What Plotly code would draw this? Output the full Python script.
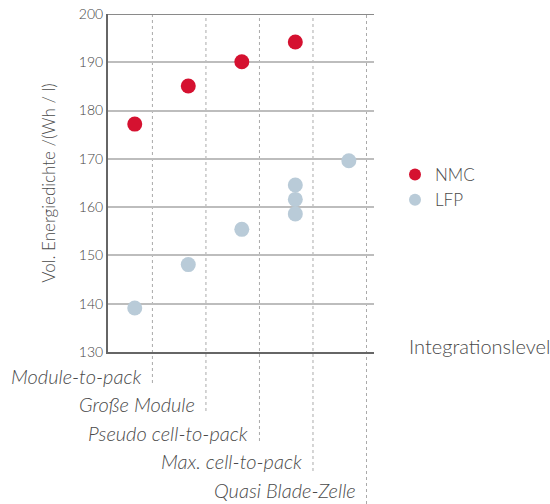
import plotly.graph_objects as go

# ---- data ----
nmc_x = [0, 1, 2, 3]
nmc_y = [177.2, 185.1, 190.1, 194.2]
lfp_x = [0, 1, 2, 3, 3, 3, 4]
lfp_y = [139.1, 148.1, 155.4, 158.6, 161.6, 164.6, 169.6]
level_labels = ["Module-to-pack", "Große Module", "Pseudo cell-to-pack",
                "Max. cell-to-pack", "Quasi Blade-Zelle"]
level_pos = [0.33, 1.33, 2.33, 3.33, 4.33]
y_ticks = [130, 140, 150, 160, 170, 180, 190, 200]

# ---- layout geometry ----
W, H = 550, 504
L, R, T, B = 108, 176, 14, 152
ph = H - T - B
FONT = "Lato"
TXT = "#4a4a4a"

def py(pixel_y):
    return (H - B - pixel_y) / ph

fig = go.Figure()
fig.add_trace(go.Scatter(x=nmc_x, y=nmc_y, mode="markers", name="NMC",
                         marker=dict(color="#d51130", size=15, line=dict(width=0))))
fig.add_trace(go.Scatter(x=lfp_x, y=lfp_y, mode="markers", name="LFP",
                         marker=dict(color="#b9cbd8", size=15, line=dict(width=0))))

line_ends = [383, 411, 441, 471, 504]
label_y = [376, 404, 433, 461, 490]
shapes = []
annotations = []
for xp, lab, ye, ly in zip(level_pos, level_labels, line_ends, label_y):
    shapes.append(dict(type="line", xref="x", yref="paper", x0=xp, x1=xp,
                       y0=py(ye), y1=1, line=dict(color="#aaaaaa", width=1, dash="dot"),
                       layer="below"))
    annotations.append(dict(x=xp, y=py(ly), xref="x", yref="paper", text=lab,
                            showarrow=False, xanchor="right", yanchor="middle", xshift=-9,
                            font=dict(family=FONT, size=20, color=TXT, style="italic", weight=300)))
# top border
shapes.append(dict(type="line", xref="paper", yref="y", x0=0, x1=1, y0=200, y1=200,
                   line=dict(color="#8a8a8a", width=2)))
annotations.append(dict(x=(407 - L) / (W - L - R), y=py(346), xref="paper", yref="paper",
                        text="Integrationslevel",
                        showarrow=False, xanchor="left", yanchor="middle",
                        font=dict(family=FONT, size=20, color=TXT, weight=300)))

fig.update_layout(
    width=W, height=H,
    margin=dict(l=L, r=R, t=T, b=B, autoexpand=False),
    paper_bgcolor="white", plot_bgcolor="white",
    font=dict(family=FONT, color=TXT, weight=300),
    showlegend=True,
    legend=dict(x=(395 - L) / (W - L - R), y=py(157), xanchor="left", yanchor="top",
                font=dict(family=FONT, size=17, color=TXT, weight=300),
                itemsizing="constant", itemwidth=30, tracegroupgap=0,
                bgcolor="rgba(0,0,0,0)"),
    xaxis=dict(range=[-0.5, 4.47], showgrid=False, zeroline=False, showticklabels=False,
               showline=True, linecolor="#666666", linewidth=2, ticks="", automargin=False),
    yaxis=dict(range=[130, 200], tickvals=y_ticks, showgrid=True, gridcolor="#bdbdbd",
               gridwidth=1.5, zeroline=False, showline=True, linecolor="#666666", linewidth=2,
               ticks="", automargin=False,
               tickfont=dict(family=FONT, size=14, color="#444444", weight=300),
               title=dict(text="Vol. Energiedichte /(Wh / l)", standoff=19,
                          font=dict(family=FONT, size=17, color=TXT, weight=300))),
    shapes=shapes, annotations=annotations,
)
fig.write_html("out.html", config={"displayModeBar": False},
               post_script="document.body.style.margin='0';document.body.style.overflow='hidden';")
